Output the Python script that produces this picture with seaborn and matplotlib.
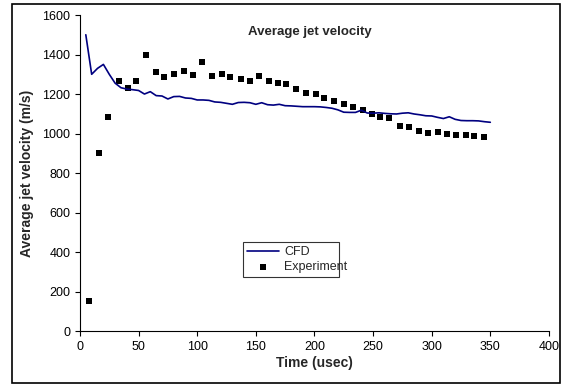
import matplotlib
matplotlib.use("Agg")
import matplotlib.pyplot as plt
import seaborn as sns
import pandas as pd
from matplotlib.patches import Rectangle

# CFD simulation (usec, m/s)
cfd_time = [5, 10, 15, 20, 25, 30, 35, 40, 45, 50, 55, 60, 65, 70, 75, 80, 85, 90,
            95, 100, 105, 110, 115, 120, 125, 130, 135, 140, 145, 150, 155, 160, 165,
            170, 175, 180, 185, 190, 195, 200, 205, 210, 215, 220, 225, 230, 235, 240,
            245, 250, 255, 260, 265, 270, 275, 280, 285, 290, 295, 300, 305, 310, 315,
            320, 325, 330, 335, 340, 345, 350]
cfd_vel = [1500, 1300, 1330, 1350, 1300, 1255, 1232, 1225, 1222, 1218, 1200, 1212,
           1192, 1190, 1175, 1187, 1188, 1180, 1178, 1170, 1170, 1168, 1160, 1158,
           1153, 1148, 1157, 1158, 1156, 1148, 1156, 1146, 1144, 1148, 1141, 1140,
           1138, 1136, 1136, 1136, 1135, 1132, 1128, 1120, 1108, 1107, 1107, 1118,
           1104, 1103, 1105, 1102, 1100, 1099, 1103, 1105, 1099, 1095, 1090, 1089,
           1082, 1076, 1085, 1072, 1066, 1065, 1065, 1064, 1060, 1057]

# Experimental measurements
exp_time = [8, 16, 24, 33, 41, 48, 56, 65, 72, 80, 89, 96, 104, 113, 121, 128, 137,
            145, 153, 161, 169, 176, 184, 193, 201, 208, 217, 225, 233, 241, 249, 256,
            264, 273, 281, 289, 297, 305, 313, 321, 329, 336, 345]
exp_vel = [150, 903, 1085, 1266, 1230, 1266, 1396, 1311, 1284, 1303, 1315, 1298,
           1364, 1293, 1303, 1288, 1274, 1266, 1293, 1266, 1257, 1249, 1225, 1203,
           1200, 1181, 1165, 1149, 1133, 1119, 1097, 1085, 1077, 1040, 1031, 1013,
           1004, 1008, 999, 994, 994, 989, 981]

x_ticks = [0, 50, 100, 150, 200, 250, 300, 350, 400]
y_ticks = [0, 200, 400, 600, 800, 1000, 1200, 1400, 1600]

sns.set_style("ticks")
plt.rcParams["font.family"] = ["Liberation Sans", "DejaVu Sans"]

df_cfd = pd.DataFrame({"t": cfd_time, "v": cfd_vel})
df_exp = pd.DataFrame({"t": exp_time, "v": exp_vel})

fig = plt.figure(figsize=(5.63, 3.85), dpi=100)
ax = fig.add_axes([0.142, 0.140, 0.833, 0.821])

sns.lineplot(data=df_cfd, x="t", y="v", ax=ax, color="#000080",
             linewidth=1.2, label="CFD")
sns.scatterplot(data=df_exp, x="t", y="v", ax=ax, marker="s", color="black",
                s=22, linewidth=0, label="Experiment")

ax.set_xlim(0, 400)
ax.set_ylim(0, 1600)
ax.set_xticks(x_ticks)
ax.set_yticks(y_ticks)
ax.tick_params(direction="out", length=3.5, width=0.8, labelsize=9, colors="black")
sns.despine(ax=ax)
for s in ["left", "bottom"]:
    ax.spines[s].set_color("black")
    ax.spines[s].set_linewidth(0.8)

ax.set_xlabel("Time (usec)", fontsize=10, fontweight="bold", labelpad=2)
ax.set_ylabel("Average jet velocity (m/s)", fontsize=10, fontweight="bold", labelpad=6)
ax.text(0.49, 0.945, "Average jet velocity", transform=ax.transAxes,
        ha="center", va="center", fontsize=9.5, fontweight="bold")

leg = ax.legend(loc="lower left", bbox_to_anchor=(0.348, 0.171, 0.204, 0.123),
                mode="expand", fontsize=9, frameon=True, fancybox=False,
                handlelength=2.6, borderaxespad=0, borderpad=0.3,
                labelspacing=0.25, handletextpad=0.4, markerscale=1.0)
leg.get_frame().set_edgecolor("black")
leg.get_frame().set_linewidth(0.8)

# outer chart border
fig.patches.append(Rectangle((12 / 563, 2 / 385), 548 / 563, 379 / 385,
                             transform=fig.transFigure, fill=False,
                             edgecolor="black", linewidth=1.2))

fig.savefig("out.png", dpi=100)
